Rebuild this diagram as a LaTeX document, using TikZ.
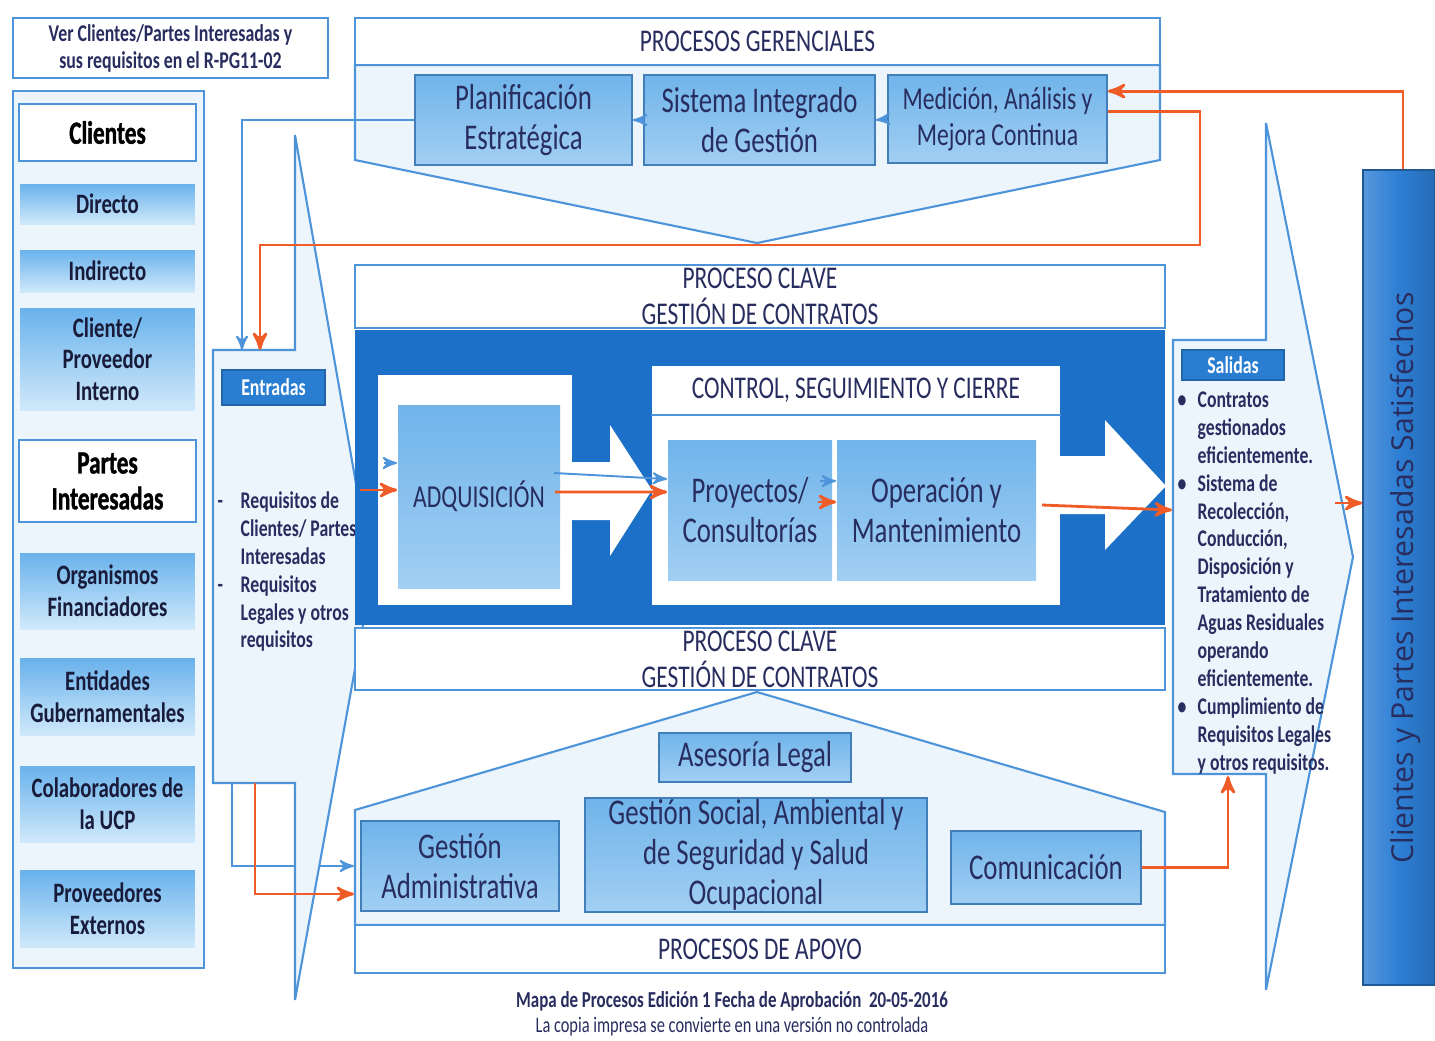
\documentclass[tikz,border=0pt]{standalone}
\usepackage{fontspec}
\setmainfont{Carlito}[FakeStretch=0.74]
\newfontfamily\barfont{Open Sans}
\newfontfamily\heavyfont{Carlito Bold}[FakeStretch=0.72,FakeBold=1.2]
\usetikzlibrary{arrows}
\definecolor{navy}{RGB}{40,45,95}
\definecolor{lineblue}{RGB}{78,148,218}
\definecolor{paleblue}{RGB}{237,245,252}
\definecolor{boxtop}{RGB}{112,180,234}
\definecolor{boxbot}{RGB}{162,207,243}
\definecolor{sidetop}{RGB}{105,178,236}
\definecolor{sidebot}{RGB}{208,233,250}
\definecolor{deepblue}{RGB}{28,112,200}
\definecolor{labelblue}{RGB}{42,126,210}
\definecolor{barblue}{RGB}{45,126,212}
\definecolor{orangeline}{RGB}{240,92,40}
\newcommand{\boxfont}{\fontsize{10.3}{11.4}\selectfont}
\newcommand{\headfont}{\fontsize{9}{10.2}\selectfont}
\newcommand{\medfont}{\fontsize{9.1}{10.4}\selectfont}
\newcommand{\sidehead}{\heavyfont\fontsize{9.2}{10.2}\selectfont}
\newcommand{\sidefont}{\fontsize{8}{9}\selectfont\bfseries}
\newcommand{\infofont}{\fontsize{6.85}{7.7}\selectfont\bfseries}
\newcommand{\listfont}{\fontsize{6.8}{7.95}\selectfont\bfseries}
\newcommand{\tagfont}{\fontsize{6.85}{8}\selectfont\bfseries}
\newcommand{\footbold}{\fontsize{6.5}{7.5}\selectfont\bfseries}
\newcommand{\notefont}{\fontsize{6.3}{7.5}\selectfont}

\begin{document}
\begin{tikzpicture}[x=0.1mm,y=-0.1mm,>=stealth',
    thinframe/.style={draw=lineblue,line width=0.6pt},
    panel/.style={thinframe,fill=paleblue},
    titlebox/.style={thinframe,fill=white,inner sep=0pt,text=navy,align=center,font=\headfont},
    procbox/.style={draw=lineblue!85!black,line width=0.5pt,top color=boxtop,bottom color=boxbot,inner sep=0pt,text=navy,align=center,font=\boxfont},
    sidebox/.style={thinframe,fill=white,inner sep=0pt,text=black,align=center,font=\sidehead,minimum width=17.7mm},
    sideitem/.style={top color=sidetop,bottom color=sidebot,inner sep=0pt,text=navy!60!black,align=center,font=\sidefont,minimum width=17.5mm},
    tagbox/.style={fill=labelblue,draw=labelblue!80!black,inner sep=0pt,text=white,font=\tagfont},
    bluearrow/.style={->,draw=lineblue,line width=0.55pt},
    orangearrow/.style={->,draw=orangeline,line width=0.8pt}]

\fill[white] (0,0) rectangle (1435,1040);
\useasboundingbox (0,0) rectangle (1435,1040);

\coordinate (inB) at (242,350);
\coordinate (inO) at (260,350);
\coordinate (outB) at (232,783);
\coordinate (outO) at (255,783);
\coordinate (apoB) at (354,866);
\coordinate (apoO) at (354,894);
\coordinate (loopR) at (1200,245);
\coordinate (salB) at (1228,776);
\coordinate (salIn) at (1172,510);
\coordinate (salOut) at (1335,503);

\draw[bluearrow] (outB) |- (apoB);

% entradas / salidas
\draw[panel] (213,350) -- (295,350) -- (295,135) -- (372,575) -- (295,1000) -- (295,783) -- (213,783) -- cycle;
\draw[panel] (1173,340) -- (1266,340) -- (1266,123) -- (1353,557) -- (1266,990) -- (1266,774) -- (1173,774) -- cycle;

\node[tagbox, minimum width=10.3mm, minimum height=3.5mm] (entr) at (273.5,387.5) {Entradas};
\node[tagbox, minimum width=10.2mm, minimum height=3mm] (sal) at (1233,365) {Salidas};

\node[anchor=north west, inner sep=0pt, text=navy, font=\listfont] (entrlist) at (217,488)
  {\begin{tabular}{@{}p{2.3mm}@{}l@{}}
   -&Requisitos de\\ &Clientes/ Partes\\ &Interesadas\\
   -&Requisitos\\ &Legales y otros\\ &requisitos
   \end{tabular}};
\node[anchor=north west, inner sep=0pt, text=navy, font=\listfont] (sallist) at (1177,387)
  {\begin{tabular}{@{}p{2mm}@{}l@{}}
   \textbullet&Contratos\\ &gestionados\\ &eficientemente.\\
   \textbullet&Sistema de\\ &Recolección,\\ &Conducción,\\ &Disposición y\\ &Tratamiento de\\
   &Aguas Residuales\\ &operando\\ &eficientemente.\\
   \textbullet&Cumplimiento de\\ &Requisitos Legales\\ &y otros requisitos.
   \end{tabular}};

% columna izquierda
\node[titlebox, font=\infofont, minimum width=31.5mm, minimum height=6mm] (ver) at (170.5,48) {Ver Clientes/Partes Interesadas y\\sus requisitos en el R-PG11-02};
\draw[panel] (13,91) rectangle (204,968);
\node[sidebox, minimum height=5.7mm] (cli) at (107.5,132.5) {Clientes};
\node[sideitem, minimum height=4mm] (dir) at (107.5,204) {Directo};
\node[sideitem, minimum height=4.2mm] (ind) at (107.5,271) {Indirecto};
\node[sideitem, minimum height=10.2mm] (cprov) at (107.5,359) {Cliente/\\Proveedor\\Interno};
\node[sidebox, minimum height=8.2mm] (partes) at (107.5,481) {Partes\\Interesadas};
\node[sideitem, minimum height=7.6mm] (org) at (107.5,591) {Organismos\\Financiadores};
\node[sideitem, minimum height=7.7mm] (ent) at (107.5,697) {Entidades\\Gubernamentales};
\node[sideitem, minimum height=7.6mm] (colab) at (107.5,804) {Colaboradores de\\la UCP};
\node[sideitem, minimum height=7.7mm] (prov) at (107.5,909) {Proveedores\\Externos};

% procesos gerenciales
\draw[panel] (355,65) -- (1160,65) -- (1160,160) -- (757,243) -- (355,160) -- cycle;
\node[titlebox, minimum width=80.5mm, minimum height=4.7mm] (ger) at (757.5,41.5) {PROCESOS GERENCIALES};
\node[procbox, minimum width=21.7mm, minimum height=9mm] (plan) at (523.5,120) {Planificación\\Estratégica};
\node[procbox, minimum width=23.1mm, minimum height=9mm] (sig) at (759.5,120) {Sistema Integrado\\de Gestión};
\node[procbox, font=\medfont, minimum width=21.9mm, minimum height=8.8mm] (med) at (997.5,119) {Medición, Análisis y\\Mejora Continua};

% proceso clave
\node[titlebox, minimum width=81mm, minimum height=6.3mm] (claveA) at (760,296.5) {PROCESO CLAVE\\GESTIÓN DE CONTRATOS};
\fill[deepblue] (355,330) rectangle (1165,625);
\node[titlebox, minimum width=81mm, minimum height=6.2mm] (claveB) at (760,659) {PROCESO CLAVE\\GESTIÓN DE CONTRATOS};
\fill[white] (378,375) rectangle (572,605);
\node[procbox, draw=none, font=\medfont, minimum width=16.2mm, minimum height=18.3mm] (adq) at (479,496.5) {ADQUISICIÓN};
\fill[white] (652,366) rectangle (1060,605);
\node[titlebox, draw=none, minimum width=40.8mm, minimum height=4.8mm] (ctl) at (856,390) {CONTROL, SEGUIMIENTO Y CIERRE};
\draw[thinframe] (ctl.south west) -- (ctl.south east);
\node[procbox, draw=none, minimum width=16.4mm, minimum height=14mm] (proy) at (750,510) {Proyectos/\\Consultorías};
\node[procbox, draw=none, minimum width=19.9mm, minimum height=14mm] (oper) at (936.5,510) {Operación y\\Mantenimiento};
\fill[white] (572,462) -- (610,462) -- (610,425) -- (652,490) -- (610,556) -- (610,520) -- (572,520) -- cycle;
\fill[white] (1060,456) -- (1105,456) -- (1105,420) -- (1166,486) -- (1105,550) -- (1105,514) -- (1060,514) -- cycle;

% procesos de apoyo
\draw[panel] (355,925) -- (355,810) -- (757,692) -- (1165,812) -- (1165,925) -- cycle;
\node[titlebox, minimum width=81mm, minimum height=4.8mm] (apoyo) at (760,949) {PROCESOS DE APOYO};
\node[procbox, minimum width=19.2mm, minimum height=4.9mm] (ase) at (755,757.5) {Asesoría Legal};
\node[procbox, minimum width=34.2mm, minimum height=11.4mm] (gsoc) at (756,855) {Gestión Social, Ambiental y\\de Seguridad y Salud\\Ocupacional};
\node[procbox, minimum width=19.8mm, minimum height=9mm] (gadm) at (460,866) {Gestión\\Administrativa};
\node[procbox, minimum width=19mm, minimum height=7.3mm] (com) at (1046,867.5) {Comunicación};

% clientes satisfechos
\node[left color=barblue!80!white, right color=barblue!85!black, middle color=barblue, draw=barblue!70!black, inner sep=0pt, minimum width=7.2mm, minimum height=81.5mm] (bar) at (1399,577.5) {};
\node[rotate=90, text=navy, font=\barfont\fontsize{8.6}{10}\selectfont] (bartext) at (1406,578) {Clientes y Partes Interesadas Satisfechos};

\node[text=navy, font=\footbold] (foot1) at (732,1001) {Mapa de Procesos Edición 1 Fecha de Aprobación~~20-05-2016};
\node[text=navy, font=\notefont] (foot2) at (732,1027) {La copia impresa se convierte en una versión no controlada};

\draw[bluearrow] (med.west) -- (sig.east);
\draw[bluearrow] (sig.west) -- (plan.east);
\draw[bluearrow] (plan.west) -| (inB);
\draw[orangearrow] ([xshift=0.4mm]bar.north) |- ([yshift=-1.7mm]med.north east);
\draw[orangearrow] ([yshift=-3.7mm]med.north east) -| (loopR) -| (inO);
\draw[orangearrow] (outO) |- (apoO);
\draw[orangearrow] (com.east) -| (salB);

\coordinate (adqInB) at (384,463);
\coordinate (adqInO) at (360,490);
\coordinate (adqOutB) at (554,473);
\coordinate (adqOutO) at (555,492);
\coordinate (proyB) at (820,481);
\coordinate (proyO) at (818,502);
\coordinate (operO) at (1042,505);
\draw[bluearrow] (adqInB) -- (adqInB -| adq.west);
\draw[orangearrow] (adqInO) -- (adqInO -| adq.west);
\draw[bluearrow] (adqOutB) -- ([yshift=3.1mm]proy.west);
\draw[orangearrow] (adqOutO) -- ([yshift=1.8mm]proy.west);
\draw[bluearrow, dashed] (proyB) -- (proyB -| oper.west);
\draw[orangearrow] (proyO) -- (proyO -| oper.west);
\draw[orangearrow] (operO) -- (salIn);
\draw[orangearrow] (salOut) -- (salOut -| bar.west);
\end{tikzpicture}
\end{document}
